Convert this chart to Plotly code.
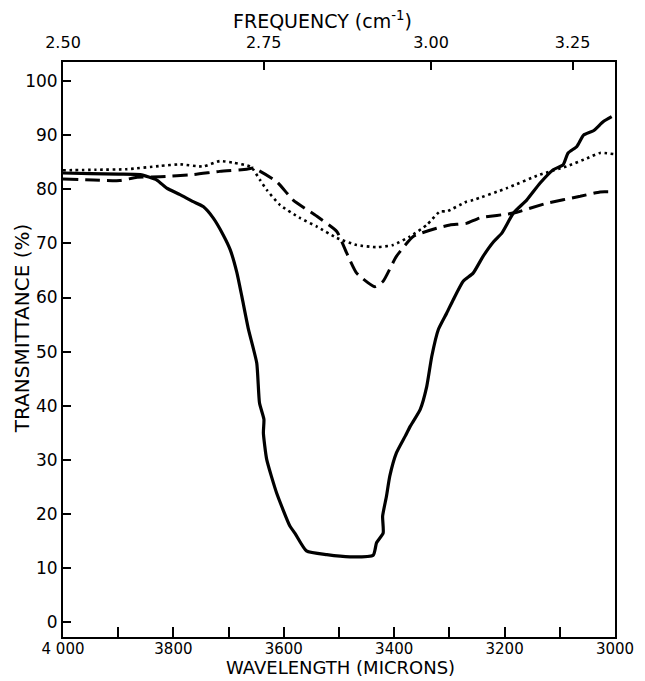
import plotly.graph_objects as go

# Solid curve
solid_x = [4000, 3950, 3900, 3860, 3830, 3812, 3788, 3764, 3746, 3728, 3710, 3697, 3685, 3676,
           3664, 3649, 3644, 3636, 3637, 3631, 3613, 3589, 3580, 3559, 3522, 3480, 3438, 3432,
           3420, 3421, 3414, 3408, 3396, 3380, 3371, 3353, 3341, 3332, 3320, 3305, 3293, 3275,
           3257, 3239, 3220, 3205, 3184, 3160, 3136, 3112, 3094, 3085, 3069, 3057, 3039, 3021, 3006]
solid_y = [83.0, 82.9, 82.8, 82.7, 81.7, 80.2, 79.0, 77.7, 76.8, 74.7, 71.6, 68.8, 64.6, 60.2,
           54.1, 47.9, 40.5, 37.5, 35.0, 30.1, 23.9, 17.8, 16.5, 13.2, 12.5, 12.1, 12.4, 14.7,
           16.5, 19.6, 23.3, 27.0, 31.3, 34.4, 36.2, 39.3, 43.6, 49.1, 54.1, 57.1, 59.6, 63.0,
           64.5, 67.6, 70.3, 71.9, 75.6, 78.0, 81.1, 83.6, 84.5, 86.7, 87.9, 90.0, 90.8, 92.5, 93.4]

# Dotted curve
dot_x = [4000, 3940, 3885, 3824, 3788, 3746, 3716, 3691, 3661, 3655, 3643, 3631, 3607, 3571,
         3540, 3504, 3468, 3432, 3402, 3371, 3341, 3317, 3305, 3269, 3257, 3196, 3136, 3088,
         3051, 3027, 3003]
dot_y = [83.5, 83.6, 83.7, 84.3, 84.6, 84.2, 85.2, 84.9, 84.2, 83.6, 81.7, 79.9, 77.1, 74.7,
         73.1, 71.0, 69.7, 69.3, 69.7, 71.3, 73.4, 75.9, 75.9, 77.7, 78.0, 80.2, 82.7, 84.2,
         85.7, 86.7, 86.5]

# Dashed curve
dash_x = [4000, 3945, 3897, 3866, 3824, 3764, 3716, 3667, 3655, 3613, 3583, 3540, 3504, 3486,
          3468, 3435, 3420, 3396, 3365, 3323, 3299, 3269, 3245, 3184, 3124, 3063, 3027, 3003]
dash_y = [81.9, 81.7, 81.6, 82.2, 82.3, 82.7, 83.3, 83.7, 83.9, 81.4, 78.0, 75.0, 72.2, 68.2,
          64.5, 62.0, 63.0, 67.6, 71.3, 72.8, 73.4, 73.7, 74.7, 75.6, 77.4, 78.7, 79.5, 79.5]

# Axis ticks
bottom_ticks = [4000, 3800, 3600, 3400, 3200, 3000]
bottom_labels = ["4 000", "3800", "3600", "3400", "3200", "3000"]
bottom_minor = [3900, 3700, 3500, 3300, 3100]
top_freq = [2.50, 2.75, 3.00, 3.25]
top_labels = ["2.50", "2.75", "3.00", "3.25"]
top_ticks = [10000 / f for f in top_freq]
y_ticks = list(range(0, 101, 10))

font = "DejaVu Sans"
fig = go.Figure()
fig.add_trace(go.Scatter(x=solid_x, y=solid_y, mode="lines",
                         line=dict(color="black", width=3.2, shape="spline", smoothing=0.5),
                         showlegend=False))
fig.add_trace(go.Scatter(x=dot_x, y=dot_y, mode="lines",
                         line=dict(color="black", width=2.6, dash="2.6px,3.6px",
                                   shape="spline", smoothing=0.5),
                         showlegend=False))
fig.add_trace(go.Scatter(x=dash_x, y=dash_y, mode="lines",
                         line=dict(color="black", width=3.0, dash="15px,7px",
                                   shape="spline", smoothing=0.5),
                         showlegend=False))
fig.add_trace(go.Scatter(x=[], y=[], xaxis="x2", showlegend=False, hoverinfo="skip"))

fig.update_layout(
    width=645, height=681,
    margin=dict(l=63, r=30, t=62, b=44),
    paper_bgcolor="white", plot_bgcolor="white",
    font=dict(family=font, color="black", size=16),
    xaxis=dict(range=[4000, 3000], tickvals=bottom_ticks, ticktext=bottom_labels,
               ticks="inside", ticklen=10, tickwidth=1.5, tickcolor="black",
               ticklabelstandoff=-3,
               minor=dict(tickmode="array", tickvals=bottom_minor, ticks="inside",
                          ticklen=10, tickwidth=1.5, tickcolor="black", showgrid=False),
               showline=True, linecolor="black", linewidth=2, mirror=True,
               showgrid=False, zeroline=False, tickfont=dict(size=15)),
    xaxis2=dict(range=[4000, 3000], overlaying="x", side="top",
                tickvals=top_ticks, ticktext=top_labels,
                ticks="inside", ticklen=8, tickwidth=1.5, tickcolor="black",
                ticklabelstandoff=10,
                showgrid=False, zeroline=False, showline=False, tickfont=dict(size=16)),
    yaxis=dict(range=[-2.7, 103.5], tickvals=y_ticks,
               ticks="inside", ticklen=8, tickwidth=1.5, tickcolor="black",
               showline=True, linecolor="black", linewidth=2, mirror=True,
               showgrid=False, zeroline=False, tickfont=dict(size=17)),
    annotations=[
        dict(text="WAVELENGTH (MICRONS)", xref="paper", yref="paper", x=0.503, y=0,
             yshift=-30, yanchor="middle", showarrow=False, font=dict(size=18)),
        dict(text="FREQUENCY (cm<sup>-1</sup>)", xref="paper", yref="paper", x=0.47, y=1,
             yshift=42, yanchor="middle", showarrow=False, font=dict(size=19)),
        dict(text="TRANSMITTANCE (%)", xref="paper", yref="paper", x=0, y=0.537,
             xshift=-41, xanchor="center", yanchor="middle", textangle=-90,
             showarrow=False, font=dict(size=20)),
    ],
)

fig.write_html("out.html", post_script="document.body.style.margin='0';",
               config={"displayModeBar": False})
